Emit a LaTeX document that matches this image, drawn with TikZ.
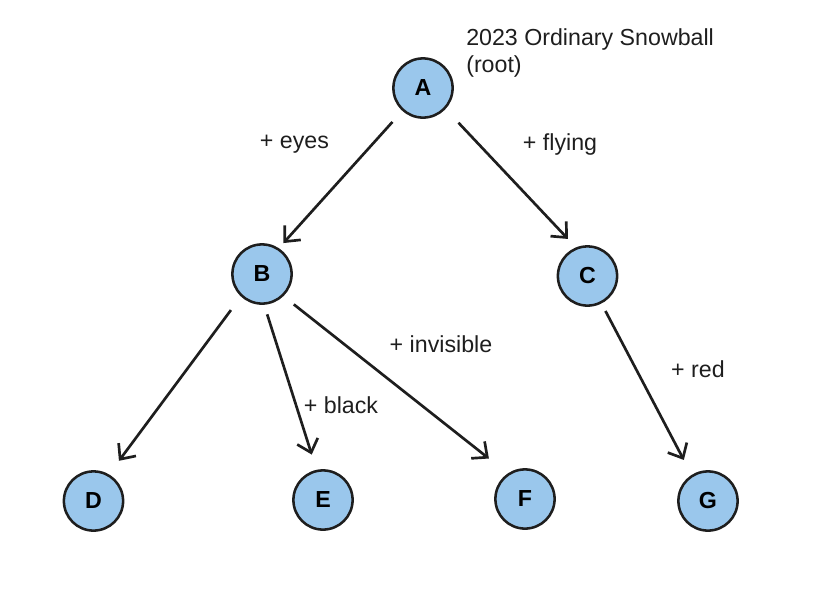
\documentclass[tikz,border=0pt]{standalone}
\usepackage{fontspec}
\setmainfont{Liberation Sans}
\usetikzlibrary{arrows.meta}
\definecolor{nodeblue}{RGB}{154,199,236}
\definecolor{ink}{RGB}{30,30,30}
\tikzset{vertex/.style = {shape=circle,draw=ink,line width=1.8pt,fill=nodeblue,minimum size=1.48cm,inner sep=0pt,font=\fontsize{16.5}{18.5}\selectfont\bfseries}}
\tikzset{edge/.style = {-{Straight Barb[length=3mm,width=5.4mm]},draw=ink,line width=1.9pt}}
\tikzset{lbl/.style = {inner sep=0pt,text=ink,font=\fontsize{16.5}{18.5}\selectfont}}

\begin{document}
\begin{tikzpicture}[x=0.025cm,y=-0.025cm]
\useasboundingbox (0,0) rectangle (823,599);
% vertices
\node[vertex] (A) at (423,88) {A};
\node[vertex] (B) at (262,274) {B};
\node[vertex] (C) at (587.5,276) {C};

\node[vertex] (D) at (93.5,501) {D};
\node[vertex] (E) at (323,500) {E};
\node[vertex] (F) at (525,499) {F};
\node[vertex] (G) at (708,501) {G};

\node[lbl,anchor=west,align=left] (root) at (466,53) {2023 Ordinary Snowball\\(root)};
%edges
\draw[edge,shorten <=0.37cm,shorten >=0.17cm] (A.228) to (B.57);
\draw[edge,shorten <=0.47cm,shorten >=0.29cm] (A.317) to (C.112);

\draw[edge,shorten <=0.42cm,shorten >=0.42cm] (B.227) to (D.60);
\draw[edge,shorten <=0.25cm,shorten >=0.40cm] (B.274) to (E.102);
\draw[edge,shorten <=0.33cm,shorten >=0.60cm] (B.314) to (F.124);

\draw[edge,shorten <=0.21cm,shorten >=0.42cm] (C.297) to (G.122);
% edge labels
\node[lbl] (eyes) at (294.5,144) {+ eyes};
\node[lbl] (flying) at (560,144) {+ flying};
\node[lbl] (invisible) at (441,344) {+ invisible};
\node[lbl] (black) at (341,405) {+ black};
\node[lbl] (red) at (698,369) {+ red};
\end{tikzpicture}
\end{document}
